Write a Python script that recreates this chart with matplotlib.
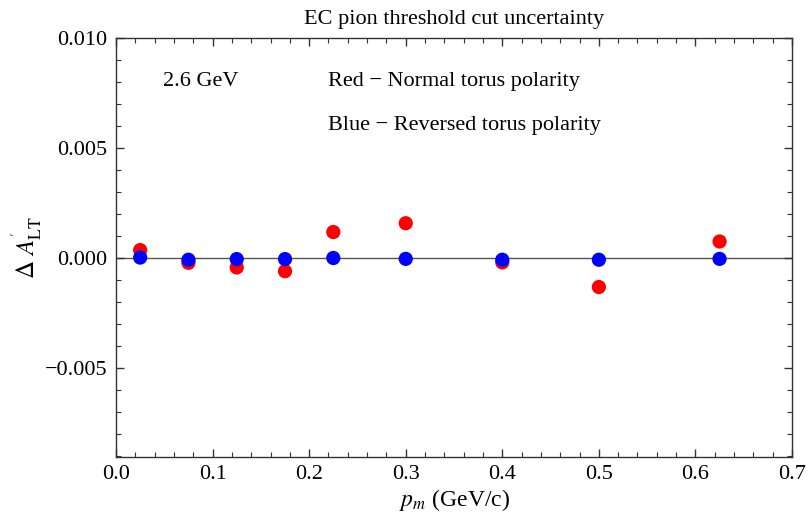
import matplotlib
matplotlib.use("Agg")
import matplotlib.pyplot as plt
from matplotlib.ticker import MultipleLocator, FormatStrFormatter

plt.rcParams['font.family'] = ['Liberation Serif', 'DejaVu Serif']
plt.rcParams['mathtext.fontset'] = 'stix'

# Missing momentum bin centres (GeV/c)
p_m = [0.025, 0.075, 0.125, 0.175, 0.225, 0.3, 0.4, 0.5, 0.625]
# Systematic uncertainty on A'_LT from the EC pion threshold cut
delta_normal = [0.00036, -0.00022, -0.00043, -0.00060, 0.00118, 0.00158, -0.00020, -0.00132, 0.00075]
delta_reversed = [0.00002, -0.00008, -0.00005, -0.00005, 0.00000, -0.00004, -0.00008, -0.00008, -0.00004]

x_ticks = [0.0, 0.1, 0.2, 0.3, 0.4, 0.5, 0.6, 0.7]
y_ticks = [-0.005, 0.0, 0.005, 0.010]

fig = plt.figure(figsize=(8.08, 5.16), dpi=100)
ax = fig.add_axes([0.1436, 0.115, 0.8366, 0.8114])

ax.axhline(0.0, color='#555555', lw=1.0, zorder=1)
ax.scatter(p_m, delta_normal, s=105, color='#ff0000', edgecolors='none', zorder=3)
ax.scatter(p_m, delta_reversed, s=105, color='#0000ff', edgecolors='none', zorder=4)

ax.set_xlim(0.0, 0.7)
ax.set_ylim(-0.00903, 0.010)
ax.set_xticks(x_ticks)
ax.set_yticks(y_ticks)
ax.xaxis.set_major_formatter(FormatStrFormatter('%.1f'))
ax.yaxis.set_major_formatter(FormatStrFormatter('%.3f'))
ax.xaxis.set_minor_locator(MultipleLocator(0.02))
ax.yaxis.set_minor_locator(MultipleLocator(0.001))

for s in ax.spines.values():
    s.set_color('#333333')
    s.set_linewidth(1.0)

ax.tick_params(which='both', direction='in', top=True, right=True, color='#333333',
               labelsize=16, labelcolor='black')
ax.tick_params(which='major', length=6, width=1.0, pad=6)
ax.tick_params(which='minor', length=3.5, width=0.8)
ax.set_yticklabels(['\u22120.005', '0.000', '0.005', '0.010'])

ax.set_title('EC pion threshold cut uncertainty', fontsize=16, pad=10)
ax.set_xlabel(r'$p_m$ (GeV/c)', fontsize=17, labelpad=2)
ax.set_ylabel(r"$\Delta\ A^{'}_{\mathrm{LT}}$", fontsize=18, labelpad=0)

ax.text(0.0487, 0.0080, '2.6 GeV', fontsize=16, va='center', ha='left')
ax.text(0.2195, 0.0080, 'Red \u2212 Normal torus polarity', fontsize=16, va='center', ha='left')
ax.text(0.2195, 0.0060, 'Blue \u2212 Reversed torus polarity', fontsize=16, va='center', ha='left')

fig.savefig('out.png', dpi=100)
